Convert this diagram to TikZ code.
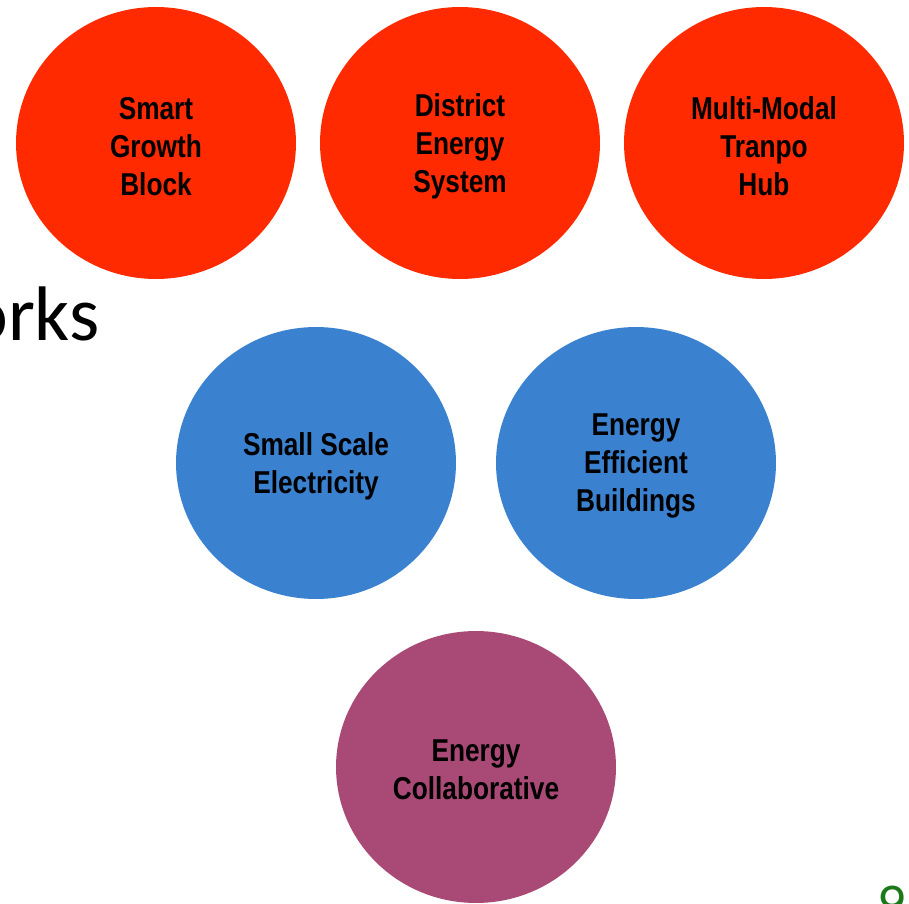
\documentclass[tikz,border=0pt]{standalone}
\usepackage{fontspec}
\usepackage{xcolor}
\usepackage{tikz}
\usetikzlibrary{positioning,shapes.geometric}
\newfontfamily\bubblefont{Liberation Sans}[FakeStretch=0.83]
\newfontfamily\slidefont{Carlito}
\definecolor{projred}{HTML}{FF2A00}
\definecolor{techblue}{HTML}{3A81D0}
\definecolor{collabpurple}{HTML}{A94A76}
\definecolor{pagegreen}{HTML}{1A7A1A}
\tikzset{
    bubble/.style={
        ellipse,
        draw=none,
        minimum width=5.6cm,
        minimum height=5.44cm,
        inner sep=0pt
    },
    bubbletext/.style={
        align=center,
        text=black,
        yshift=-1.8pt,
        font={\bubblefont\bfseries\fontsize{18pt}{21.6pt}\selectfont}
    },
    project/.style={bubble, fill=projred},
    tech/.style={bubble, fill=techblue},
    collab/.style={bubble, fill=collabpurple},
}

\begin{document}
\begin{tikzpicture}[x=0.02cm, y=-0.02cm]
    \useasboundingbox (0,0) rectangle (909,903);
    \fill[white] (0,0) rectangle (909,903);

    % top row
    \node[project, label={[bubbletext]center:{Smart\\Growth\\Block}}] (smart) at (156,143) {};
    \node[project, label={[bubbletext]center:{District\\Energy\\System}}] (district) at (460,143) {};
    \node[project, label={[bubbletext]center:{Multi-Modal\\Tranpo\\Hub}}] (hub) at (764,143) {};

    % cut off slide title
    \node[anchor=base east, inner sep=0pt, font={\slidefont\fontsize{44pt}{50pt}\selectfont}] (title) at (100,340) {orks};

    % middle row
    \node[tech, label={[bubbletext]center:{Small Scale\\Electricity}}] (smallscale) at (316,463) {};
    \node[tech, label={[bubbletext]center:{Energy\\Efficient\\Buildings}}] (buildings) at (636,463) {};

    % bottom
    \node[collab, label={[bubbletext]center:{Energy\\Collaborative}}] (collab) at (476,767) {};

    \node[anchor=north, inner sep=0pt, text=pagegreen, font={\slidefont\fontsize{32pt}{34pt}\selectfont}] (pagenum) at (892,886) {9};
\end{tikzpicture}
\end{document}
